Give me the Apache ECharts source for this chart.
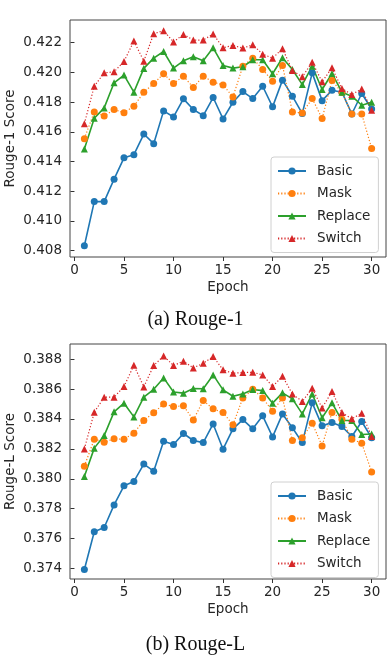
<!DOCTYPE html>
<html>
<head>
<meta charset="utf-8">
<script src="https://cdn.jsdelivr.net/npm/echarts@6/dist/echarts.min.js"></script>
<style>
  html, body { margin: 0; padding: 0; background: #fff; }
  #chart { width: 391px; height: 659px; }
</style>
</head>
<body>
<div id="chart"></div>
<script>
const epochs = Array.from({ length: 30 }, (_, i) => i + 1);
const names = ["Basic", "Mask", "Replace", "Switch"];
const xTicks = [0, 5, 10, 15, 20, 25, 30];
const r1Ticks = [0.408, 0.410, 0.412, 0.414, 0.416, 0.418, 0.420, 0.422];
const rlTicks = [0.374, 0.376, 0.378, 0.380, 0.382, 0.384, 0.386, 0.388];

// Rouge-1
const r1Basic = [0.40833, 0.4113, 0.4113, 0.41281, 0.41425, 0.41446, 0.41585, 0.4152, 0.41741, 0.417,
  0.41822, 0.4175, 0.41709, 0.41831, 0.41687, 0.41799, 0.41871, 0.41824, 0.41907, 0.41768,
  0.41948, 0.4184, 0.41723, 0.41997, 0.4181, 0.4188, 0.41867, 0.4172, 0.41858, 0.41754];
const r1Mask = [0.41554, 0.41734, 0.41707, 0.4175, 0.41729, 0.41772, 0.41867, 0.41925, 0.41991, 0.41925,
  0.41975, 0.41898, 0.41975, 0.41934, 0.41916, 0.41835, 0.42042, 0.42096, 0.4202, 0.41941,
  0.42047, 0.41734, 0.41727, 0.41824, 0.41689, 0.41946, 0.41864, 0.4172, 0.4172, 0.41488];
const r1Replace = [0.41484, 0.41691, 0.41761, 0.4193, 0.41982, 0.41867, 0.42027, 0.42096, 0.42141, 0.42029,
  0.42078, 0.42105, 0.42078, 0.42166, 0.42047, 0.42029, 0.42038, 0.42085, 0.42085, 0.41991,
  0.42099, 0.4202, 0.41918, 0.42042, 0.41885, 0.41993, 0.41867, 0.4184, 0.41779, 0.41799];
const r1Switch = [0.41655, 0.41907, 0.41997, 0.42004, 0.42074, 0.42211, 0.42076, 0.42261, 0.42281, 0.42205,
  0.42256, 0.42218, 0.42218, 0.42259, 0.42166, 0.42182, 0.42164, 0.42186, 0.42123, 0.42096,
  0.4216, 0.42013, 0.4197, 0.42069, 0.41937, 0.42031, 0.41891, 0.41851, 0.41889, 0.41745];

// Rouge-L
const rlBasic = [0.37393, 0.37645, 0.37674, 0.37825, 0.37953, 0.37982, 0.38098, 0.38051, 0.38251, 0.38229,
  0.38303, 0.38256, 0.38242, 0.38367, 0.38198, 0.38334, 0.38396, 0.38334, 0.38421, 0.3828,
  0.38434, 0.38341, 0.38242, 0.38508, 0.38354, 0.38376, 0.3835, 0.38283, 0.38383, 0.38274];
const rlMask = [0.38084, 0.38265, 0.38245, 0.38267, 0.38265, 0.38305, 0.3839, 0.38441, 0.38501, 0.38483,
  0.38488, 0.38394, 0.38523, 0.38468, 0.38443, 0.38361, 0.38541, 0.38599, 0.38541, 0.38452,
  0.38541, 0.38256, 0.38274, 0.38372, 0.3822, 0.38443, 0.38399, 0.38265, 0.38238, 0.38046];
const rlReplace = [0.38015, 0.38205, 0.38289, 0.38448, 0.38506, 0.38414, 0.38546, 0.38599, 0.38675, 0.38581,
  0.38573, 0.38604, 0.38602, 0.38695, 0.38595, 0.38552, 0.38568, 0.38597, 0.3859, 0.38506,
  0.38575, 0.38535, 0.38434, 0.38568, 0.38408, 0.38508, 0.3839, 0.3839, 0.38296, 0.383];
const rlSwitch = [0.382, 0.38445, 0.38546, 0.38546, 0.38617, 0.3876, 0.38615, 0.38758, 0.38822, 0.38758,
  0.38787, 0.38742, 0.38773, 0.38818, 0.38729, 0.38706, 0.38711, 0.38713, 0.38695, 0.38617,
  0.38686, 0.38568, 0.38517, 0.38606, 0.38474, 0.38584, 0.38443, 0.38401, 0.38439, 0.38283];

const colors = ["#1f77b4", "#ff7f0e", "#2ca02c", "#d62728"];
const symbols = ["circle", "circle", "triangle", "triangle"];
const dashed = [false, true, false, true];
const font = "DejaVu Sans";
const txt = "#262626";

const chart = echarts.init(document.getElementById("chart"), null, { renderer: "canvas" });

function xAxis(gridIndex) {
  return {
    type: "value", gridIndex: gridIndex, min: -0.45, max: 31.45,
    name: "Epoch", nameLocation: "middle", nameGap: 23, nameMoveOverlap: false,
    nameTextStyle: { fontFamily: font, fontSize: 13.5, color: txt },
    axisLine: { show: false },
    axisTick: { show: true, length: 4, lineStyle: { color: "#333" }, customValues: xTicks },
    axisLabel: { margin: 6.5, fontFamily: font, fontSize: 13.5, color: txt, customValues: xTicks },
    splitLine: { show: false }
  };
}
function yAxis(gridIndex, min, max, ticks, title) {
  return {
    type: "value", gridIndex: gridIndex, min: min, max: max,
    name: title, nameLocation: "middle", nameGap: 53, nameMoveOverlap: false,
    nameTextStyle: { fontFamily: font, fontSize: 13.5, color: txt },
    axisLine: { show: false },
    axisTick: { show: true, length: 4, lineStyle: { color: "#333" }, customValues: ticks },
    axisLabel: { margin: 8, fontFamily: font, fontSize: 13.5, color: txt, customValues: ticks,
      formatter: v => v.toFixed(3) },
    splitLine: { show: false }
  };
}
function legend(top) {
  return {
    data: names, orient: "vertical", left: 271, top: top,
    itemWidth: 28, itemHeight: 9, itemGap: 8.5,
    padding: [7, 8, 7, 6],
    backgroundColor: "rgba(255,255,255,0.85)",
    borderColor: "#d0d0d0", borderWidth: 1, borderRadius: 3,
    textStyle: { fontFamily: font, fontSize: 13.5, color: txt, padding: [0, 0, 0, 6] },
    selectedMode: false
  };
}
function makeSeries(dataSets, axisIndex) {
  return dataSets.map((vals, i) => ({
    name: names[i], type: "line", xAxisIndex: axisIndex, yAxisIndex: axisIndex,
    data: epochs.map((e, k) => [e, vals[k]]),
    symbol: symbols[i], symbolSize: 7,
    showAllSymbol: true,
    itemStyle: { color: colors[i] },
    lineStyle: { color: colors[i], width: dashed[i] ? 1.2 : 1.6, type: dashed[i] ? [1.2, 2] : "solid" },
    animation: false
  }));
}

chart.setOption({
  backgroundColor: "#fff",
  animation: false,
  grid: [
    { left: 70, top: 20, width: 316, height: 237, show: true, borderColor: "#444", borderWidth: 1,
      containLabel: false, outerBoundsMode: "none" },
    { left: 70, top: 344, width: 316, height: 235, show: true, borderColor: "#444", borderWidth: 1,
      containLabel: false, outerBoundsMode: "none" }
  ],
  xAxis: [xAxis(0), xAxis(1)],
  yAxis: [
    yAxis(0, 0.40757, 0.42353, r1Ticks, "Rouge-1 Score"),
    yAxis(1, 0.37329, 0.38902, rlTicks, "Rouge-L Score")
  ],
  legend: [legend(157), legend(482)],
  series: makeSeries([r1Basic, r1Mask, r1Replace, r1Switch], 0)
    .concat(makeSeries([rlBasic, rlMask, rlReplace, rlSwitch], 1)),
  graphic: [
    { type: "text", left: "center", top: 310,
      style: { text: "(a) Rouge-1", fontFamily: "Liberation Serif", fontSize: 20, fill: "#111" } },
    { type: "text", left: "center", top: 635,
      style: { text: "(b) Rouge-L", fontFamily: "Liberation Serif", fontSize: 20, fill: "#111" } }
  ]
});
</script>
</body>
</html>
